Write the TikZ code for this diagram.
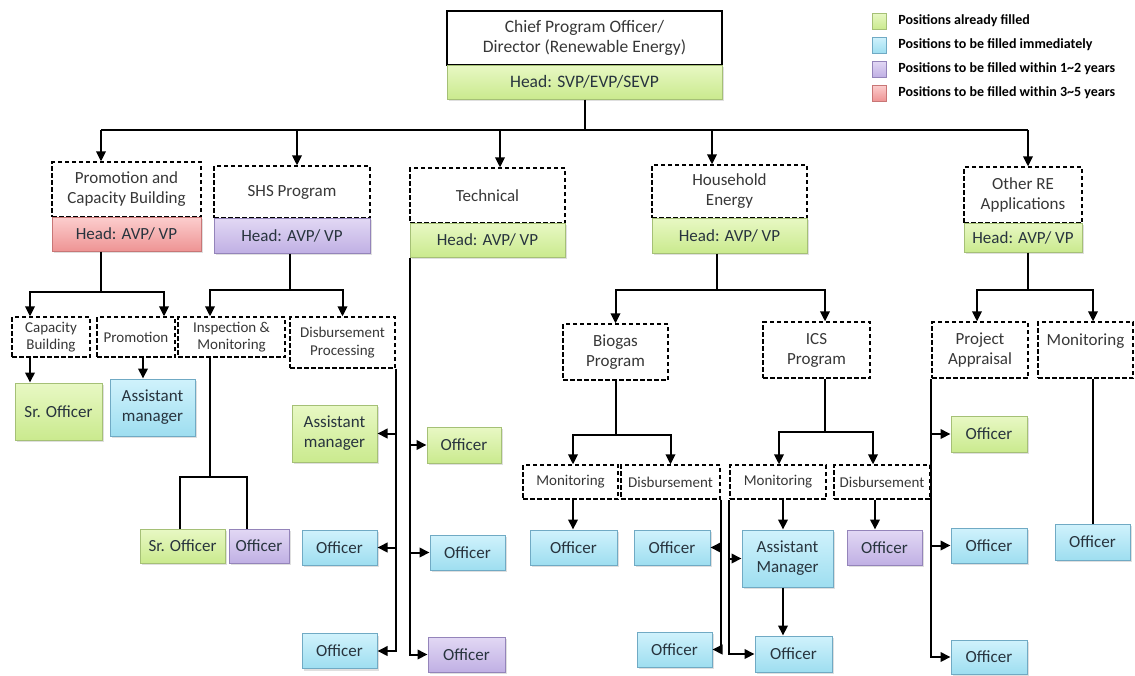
\documentclass[tikz,border=0pt]{standalone}
\usepackage{fontspec}
\setmainfont{Carlito}
\usetikzlibrary{arrows.meta,shadows,positioning}

\definecolor{boxtext}{RGB}{40,52,62}
\definecolor{darktext}{RGB}{55,55,55}
\definecolor{greentop}{RGB}{232,248,196}
\definecolor{greenbot}{RGB}{202,234,142}
\definecolor{greenline}{RGB}{165,192,118}
\definecolor{bluetop}{RGB}{208,242,252}
\definecolor{bluebot}{RGB}{158,222,240}
\definecolor{blueline}{RGB}{112,170,196}
\definecolor{purpletop}{RGB}{226,216,244}
\definecolor{purplebot}{RGB}{192,176,228}
\definecolor{purpleline}{RGB}{148,132,186}
\definecolor{redtop}{RGB}{252,206,206}
\definecolor{redbot}{RGB}{238,148,148}
\definecolor{redline}{RGB}{200,118,118}

\begin{document}
\begin{tikzpicture}[x=1pt, y=-1pt,
	wire/.style={line width=2pt},
	arr/.style={wire, -{Triangle[width=9.5pt,length=10pt]}},
	plainbox/.style={rectangle, draw, line width=1.3pt, align=center, inner sep=1pt, text=darktext},
	unitbox/.style={plainbox, dash pattern=on 4.5pt off 2.5pt},
	headbox/.style={rectangle, draw, line width=1pt, align=center, inner sep=1pt, text=boxtext,
		drop shadow={shadow xshift=1.5pt, shadow yshift=-2pt, opacity=0.25}},
	fillgreen/.style={draw=greenline, top color=greentop, bottom color=greenbot},
	fillblue/.style={draw=blueline, top color=bluetop, bottom color=bluebot},
	fillpurple/.style={draw=purpleline, top color=purpletop, bottom color=purplebot},
	fillred/.style={draw=redline, top color=redtop, bottom color=redbot},
	bigtext/.style={font=\fontsize{17.5}{20}\selectfont},
	midtext/.style={font=\fontsize{17}{20}\selectfont},
	smalltext/.style={font=\fontsize{15}{17.5}\selectfont},
	legsq/.style={rectangle, draw, line width=0.4pt, minimum width=14pt, minimum height=16pt, inner sep=0pt},
	legtext/.style={font=\fontsize{14}{16}\selectfont\bfseries, text=black, inner sep=0pt}]
	\useasboundingbox (0, 0) rectangle (1135, 675);

	% legend
	\draw (879, 21) node [legsq, fillgreen] (lg1) {};
	\draw (879, 45) node [legsq, fillblue] (lg2) {};
	\draw (879, 69) node [legsq, fillpurple] (lg3) {};
	\draw (879, 93) node [legsq, fillred] (lg4) {};
	\node [legtext, right=12pt of lg1] (lt1) {Positions already filled};
	\node [legtext, right=12pt of lg2] (lt2) {Positions to be filled immediately};
	\node [legtext, right=12pt of lg3] (lt3) {Positions to be filled within 1\textasciitilde2 years};
	\node [legtext, right=12pt of lg4] (lt4) {Positions to be filled within 3\textasciitilde5 years};

	% chief
	\draw (584.5, 38) node [plainbox, bigtext, minimum width=275pt, minimum height=54pt] (chief) {Chief Program Officer/\\Director (Renewable Energy)};
	\draw (584.5, 82) node [headbox, fillgreen, bigtext, minimum width=275pt, minimum height=34pt] (chiefhead) {Head: SVP/EVP/SEVP};

	% units
	\draw (126.5, 189.5) node [unitbox, midtext, minimum width=149pt, minimum height=55pt] (pcb) {Promotion and\\Capacity Building};
	\draw (126.5, 234) node [headbox, fillred, midtext, minimum width=149pt, minimum height=34pt] (pcbhead) {Head: AVP/ VP};
	\draw (292, 192) node [unitbox, midtext, minimum width=156pt, minimum height=52pt] (shs) {SHS Program};
	\draw (292, 235.5) node [headbox, fillpurple, midtext, minimum width=156pt, minimum height=35pt] (shshead) {Head: AVP/ VP};
	\draw (487.5, 195.5) node [unitbox, midtext, minimum width=155pt, minimum height=55pt] (tech) {Technical};
	\draw (487.5, 240) node [headbox, fillgreen, midtext, minimum width=155pt, minimum height=34pt] (techhead) {Head: AVP/ VP};
	\draw (729.5, 191.5) node [unitbox, midtext, minimum width=155pt, minimum height=53pt] (hhe) {Household\\Energy};
	\draw (729.5, 235.5) node [headbox, fillgreen, midtext, minimum width=155pt, minimum height=35pt] (hhehead) {Head: AVP/ VP};
	\draw (1023, 195) node [unitbox, midtext, minimum width=118pt, minimum height=56pt] (ore) {Other RE\\Applications};
	\draw (1023, 237.5) node [headbox, fillgreen, midtext, minimum width=118pt, minimum height=29pt] (orehead) {Head: AVP/ VP};

	% sections
	\draw (51, 337) node [unitbox, smalltext, minimum width=78pt, minimum height=40pt] (capb) {Capacity\\Building};
	\draw (136, 337) node [unitbox, smalltext, minimum width=78pt, minimum height=40pt] (promo) {Promotion};
	\draw (231.5, 337) node [unitbox, smalltext, minimum width=107pt, minimum height=40pt] (insp) {Inspection \&\\Monitoring};
	\draw (342.5, 342.5) node [unitbox, smalltext, minimum width=105pt, minimum height=51pt] (disb) {Disbursement\\Processing};
	\draw (615.5, 352) node [unitbox, midtext, minimum width=105pt, minimum height=56pt] (bio) {Biogas\\Program};
	\draw (816.5, 350) node [unitbox, midtext, minimum width=107pt, minimum height=56pt] (ics) {ICS\\Program};
	\draw (980, 350) node [unitbox, midtext, minimum width=96pt, minimum height=56pt] (papp) {Project\\Appraisal};
	\draw (1085.5, 350) node [unitbox, midtext, minimum width=95pt, minimum height=56pt] (monre) {Monitoring\\~};
	\draw (570.5, 482) node [unitbox, smalltext, minimum width=95pt, minimum height=34pt] (monbio) {Monitoring};
	\draw (670.5, 482) node [unitbox, smalltext, minimum width=99pt, minimum height=34pt] (disbio) {Disbursement};
	\draw (778, 482) node [unitbox, smalltext, minimum width=96pt, minimum height=34pt] (monics) {Monitoring};
	\draw (882, 482) node [unitbox, smalltext, minimum width=96pt, minimum height=34pt] (disics) {Disbursement};

	% positions
	\draw (58.5, 411.5) node [headbox, fillgreen, midtext, minimum width=87pt, minimum height=57pt] (srcapb) {Sr. Officer};
	\draw (152.5, 407.5) node [headbox, fillblue, midtext, minimum width=85pt, minimum height=57pt] (ampromo) {Assistant\\manager};
	\draw (182.5, 546) node [headbox, fillgreen, midtext, minimum width=85pt, minimum height=34pt] (srinsp) {Sr. Officer};
	\draw (259, 546) node [headbox, fillpurple, midtext, minimum width=60pt, minimum height=34pt] (offinsp) {Officer};
	\draw (334.5, 433.5) node [headbox, fillgreen, midtext, minimum width=85pt, minimum height=57pt] (amdisb) {Assistant\\manager};
	\draw (339.5, 547.5) node [headbox, fillblue, midtext, minimum width=75pt, minimum height=35pt] (offdisba) {Officer};
	\draw (339.5, 651) node [headbox, fillblue, midtext, minimum width=75pt, minimum height=35pt] (offdisbb) {Officer};
	\draw (464, 445) node [headbox, fillgreen, midtext, minimum width=74pt, minimum height=36pt] (offtecha) {Officer};
	\draw (467.5, 552.5) node [headbox, fillblue, midtext, minimum width=75pt, minimum height=35pt] (offtechb) {Officer};
	\draw (466.5, 654.5) node [headbox, fillpurple, midtext, minimum width=77pt, minimum height=35pt] (offtechc) {Officer};
	\draw (573.5, 547.5) node [headbox, fillblue, midtext, minimum width=87pt, minimum height=35pt] (offmonbio) {Officer};
	\draw (672, 547.5) node [headbox, fillblue, midtext, minimum width=76pt, minimum height=35pt] (offdisbioa) {Officer};
	\draw (674.5, 649.5) node [headbox, fillblue, midtext, minimum width=75pt, minimum height=35pt] (offdisbiob) {Officer};
	\draw (787.5, 558.5) node [headbox, fillblue, midtext, minimum width=91pt, minimum height=57pt] (amics) {Assistant\\Manager};
	\draw (793.5, 654) node [headbox, fillblue, midtext, minimum width=77pt, minimum height=36pt] (offmonics) {Officer};
	\draw (884.5, 547.5) node [headbox, fillpurple, midtext, minimum width=75pt, minimum height=35pt] (offdisics) {Officer};
	\draw (989, 434) node [headbox, fillgreen, midtext, minimum width=76pt, minimum height=36pt] (offpappa) {Officer};
	\draw (989, 545.5) node [headbox, fillblue, midtext, minimum width=76pt, minimum height=35pt] (offpappb) {Officer};
	\draw (989, 657) node [headbox, fillblue, midtext, minimum width=76pt, minimum height=34pt] (offpappc) {Officer};
	\draw (1092.5, 542) node [headbox, fillblue, midtext, minimum width=75pt, minimum height=36pt] (offmonre) {Officer};

	% junctions
	\coordinate (bus) at (584.5, 130);
	\coordinate (busl) at (101, 130);
	\coordinate (busshs) at (297, 130);
	\coordinate (bustech) at (500, 130);
	\coordinate (bushhe) at (712, 130);
	\coordinate (busr) at (1028, 130);
	\coordinate (jpcb) at (101, 292);
	\coordinate (jpcbl) at (30, 292);
	\coordinate (jpcbr) at (164, 292);
	\coordinate (jshs) at (290, 290);
	\coordinate (jshsl) at (210, 290);
	\coordinate (jshsr) at (342.5, 290);
	\coordinate (jinsp) at (210, 477);
	\coordinate (jinspl) at (180, 477);
	\coordinate (jinspr) at (247, 477);
	\coordinate (jhhe) at (717, 290);
	\coordinate (jhhel) at (615.5, 290);
	\coordinate (jhher) at (825, 290);
	\coordinate (jbio) at (615.5, 435);
	\coordinate (jbiol) at (573, 435);
	\coordinate (jics) at (825, 432);
	\coordinate (jicsl) at (779, 432);
	\coordinate (jicsr) at (873, 432);
	\coordinate (jore) at (1028, 290);
	\coordinate (jorel) at (977, 290);
	\coordinate (jorer) at (1093, 290);

	% top level
	\draw [wire] (chiefhead.south) -- (bus);
	\draw [wire] (busl) -- (busr);
	\draw [arr] (busl) -- (busl |- pcb.north);
	\draw [arr] (busshs) -- (busshs |- shs.north);
	\draw [arr] (bustech) -- (bustech |- tech.north);
	\draw [arr] (bushhe) -- (bushhe |- hhe.north);
	\draw [arr] (busr) -- (busr |- ore.north);

	% promotion and capacity building
	\draw [wire] (jpcb |- pcbhead.south) -- (jpcb);
	\draw [arr] (jpcb) -| (jpcbl |- capb.north);
	\draw [arr] (jpcb) -| (jpcbr |- promo.north);
	\draw [arr] (jpcbl |- capb.south) -- (jpcbl |- srcapb.north);
	\draw [arr] ([xshift=7pt]promo.south) -- ([xshift=7pt]promo.south |- ampromo.north);

	% shs
	\draw [wire] (jshs |- shshead.south) -- (jshs);
	\draw [arr] (jshs) -| (jshsl |- insp.north);
	\draw [arr] (jshs) -| (jshsr |- disb.north);
	\draw [wire] (jinsp |- insp.south) -- (jinsp);
	\draw [wire] (jinspl |- srinsp.north) |- (jinspr) -- (jinspr |- offinsp.north);
	\draw [arr] (disb.south east) |- (offdisbb.east);
	\draw [arr] (disb.south east |- amdisb.east) -- (amdisb.east);
	\draw [arr] (disb.south east |- offdisba.east) -- (offdisba.east);

	% technical
	\draw [arr] (techhead.south west) |- (offtechc.west);
	\draw [arr] (techhead.south west |- offtecha.west) -- (offtecha.west);
	\draw [arr] (techhead.south west |- offtechb.west) -- (offtechb.west);

	% household energy
	\draw [wire] (jhhe |- hhehead.south) -- (jhhe);
	\draw [arr] (jhhe) -| (jhhel |- bio.north);
	\draw [arr] (jhhe) -| (jhher |- ics.north);
	\draw [wire] (bio.south) -- (jbio);
	\draw [arr] (jbio) -| (jbiol |- monbio.north);
	\draw [arr] (jbio) -| (disbio.north);
	\draw [arr] (jbiol |- monbio.south) -- (jbiol |- offmonbio.north);
	\draw [arr] (disbio.south east) |- (offdisbiob.east);
	\draw [arr] (disbio.south east |- offdisbioa.east) -- (offdisbioa.east);
	\draw [wire] (jics |- ics.south) -- (jics);
	\draw [arr] (jics) -| (jicsl |- monics.north);
	\draw [arr] (jics) -| (jicsr |- disics.north);
	\draw [arr] ([xshift=5pt]monics.south) -- ([xshift=5pt]monics.south |- amics.north);
	\draw [arr] ([xshift=-4.5pt]amics.south) -- ([xshift=-4.5pt]amics.south |- offmonics.north);
	\draw [arr] (monics.south west) |- (offmonics.west);
	\draw [arr] (monics.south west |- amics.west) -- (amics.west);
	\draw [arr] ([xshift=-7pt]disics.south) -- ([xshift=-7pt]disics.south |- offdisics.north);

	% other re applications
	\draw [wire] (jore |- orehead.south) -- (jore);
	\draw [arr] (jore) -| (jorel |- papp.north);
	\draw [arr] (jore) -| (jorer |- monre.north);
	\draw [arr] (papp.south west) |- (offpappc.west);
	\draw [arr] (papp.south west |- offpappa.west) -- (offpappa.west);
	\draw [arr] (papp.south west |- offpappb.west) -- (offpappb.west);
	\draw [wire] (offmonre.north |- monre.south) -- (offmonre.north);
\end{tikzpicture}
\end{document}
